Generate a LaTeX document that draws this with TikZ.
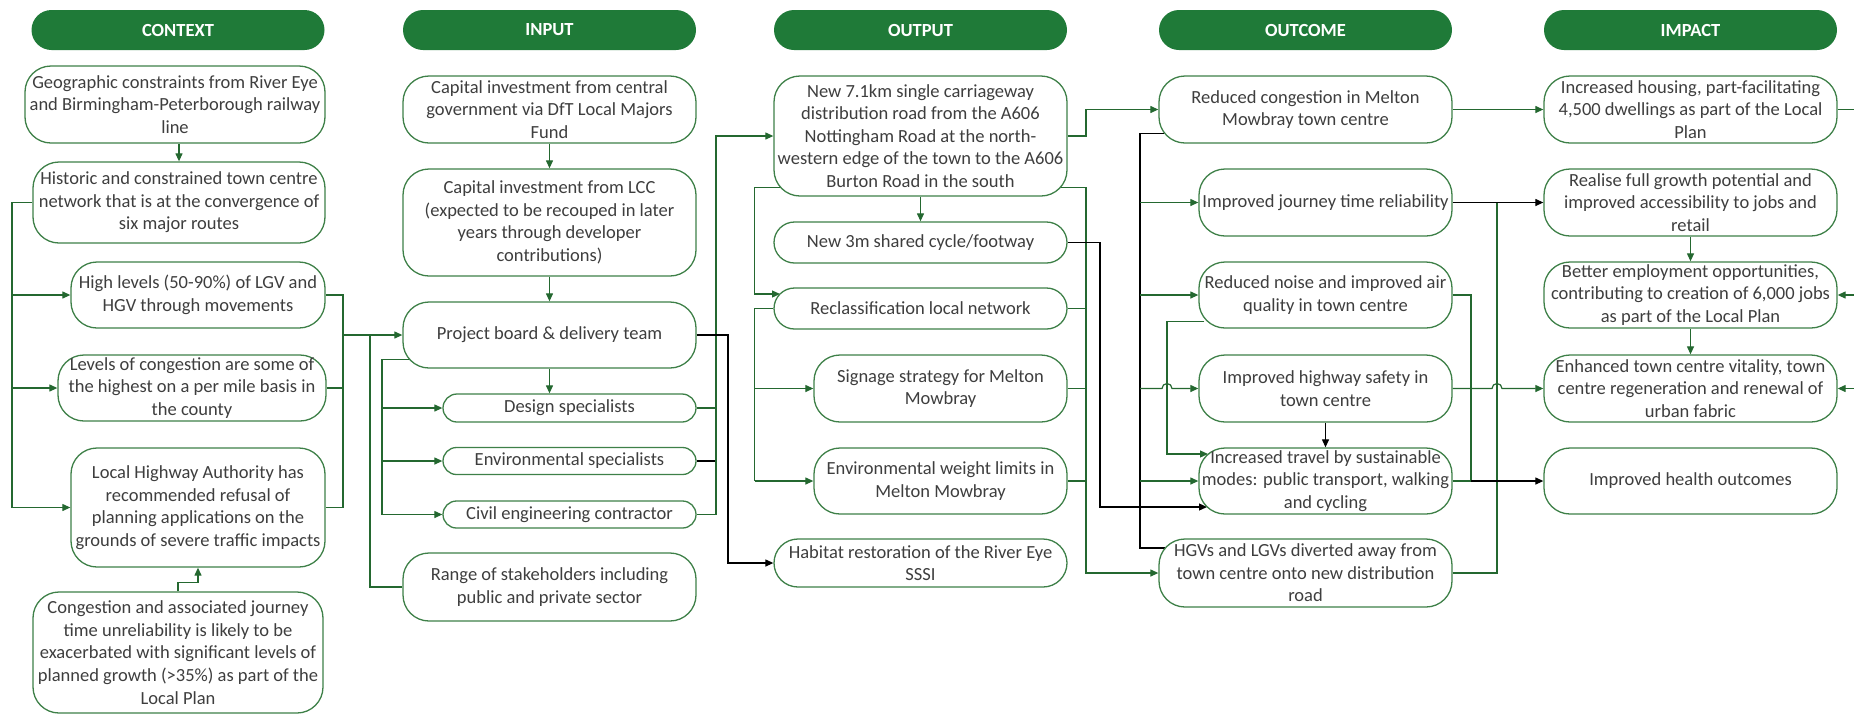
\documentclass[tikz,border=0pt]{standalone}
\usepackage{fontspec}
\setmainfont{Carlito}
\usetikzlibrary{arrows.meta,calc}
\definecolor{hdrg}{RGB}{31,122,56}
\definecolor{boxg}{RGB}{62,128,72}
\definecolor{lng}{RGB}{36,104,48}
\definecolor{txt}{RGB}{62,62,62}
\pgfdeclarelayer{bg}
\pgfsetlayers{bg,main}
\newcommand{\boxfont}{\fontsize{9.25pt}{11.3pt}\selectfont}
\begin{document}
\begin{tikzpicture}[x=0.5pt,y=-0.5pt,
 hdr/.style={fill=hdrg, rounded corners=10pt, minimum width=146.5pt, minimum height=20pt, inner sep=0pt, text=white, font=\boxfont\bfseries},
 bx/.style={draw=boxg, line width=0.65pt, fill=white, align=center, inner sep=0pt, text=txt, font=\boxfont, rounded corners=13pt},
 wh/.style 2 args={minimum width=#1pt, minimum height=#2pt},
 gl/.style={draw=lng, line width=0.6pt},
 bl/.style={draw=black, line width=0.6pt},
 ga/.style={gl, -{Triangle[length=4pt,width=3.5pt]}},
 ba/.style={bl, -{Triangle[length=4pt,width=3.5pt]}},
]
\useasboundingbox (0,0) rectangle (1854,714);

% headers
\node[hdr] (hC) at (178,30) {CONTEXT};
\node[hdr] (hI) at (549.5,30) {INPUT};
\node[hdr] (hO) at (920.5,30) {OUTPUT};
\node[hdr] (hR) at (1305.5,30) {OUTCOME};
\node[hdr] (hP) at (1690.5,30) {IMPACT};

% context
\node[bx,wh={150}{38.5}] (c1) at (175,104.5) {Geographic constraints from River Eye\\and Birmingham-Peterborough railway\\line};
\node[bx,wh={146}{40.5}] (c2) at (179,202.5) {Historic and constrained town centre\\network that is at the convergence of\\six major routes};
\node[bx,wh={127}{33}] (c3) at (198,295) {High levels (50-90\%) of LGV and\\HGV through movements};
\node[bx,wh={134}{33}] (c4) at (192,388) {Levels of congestion are some of\\the highest on a per mile basis in\\the county};
\node[bx,wh={127}{59.5}] (c5) at (198,507.5) {Local Highway Authority has\\recommended refusal of\\planning applications on the\\grounds of severe traffic impacts};
\node[bx,wh={145}{60.5}] (c6) at (178,652.5) {Congestion and associated journey\\time unreliability is likely to be\\exacerbated with significant levels of\\planned growth (>35\%) as part of the\\Local Plan};

% input
\node[bx,wh={146.5}{33.5}] (i1) at (549.5,109.5) {Capital investment from central\\government via DfT Local Majors\\Fund};
\node[bx,wh={146.5}{53.5}] (i2) at (549.5,222.5) {Capital investment from LCC\\(expected to be recouped in later\\years through developer\\contributions)};
\node[bx,wh={146.5}{33}] (i3) at (549.5,335) {Project board \& delivery team};
\node[bx,wh={126.5}{14},rounded corners=7pt] (i4) at (569.5,408) {Design specialists};
\node[bx,wh={126.5}{13.5},rounded corners=6.75pt] (i5) at (569.5,461) {Environmental specialists};
\node[bx,wh={126.5}{13.5},rounded corners=6.75pt] (i6) at (569.5,514.5) {Civil engineering contractor};
\node[bx,wh={146.5}{34}] (i7) at (549.5,587) {Range of stakeholders including\\public and private sector};

% output
\node[bx,wh={146.5}{60}] (o1) at (920.5,136) {New 7.1km single carriageway\\distribution road from the A606\\Nottingham Road at the north-\\western edge of the town to the A606\\Burton Road in the south};
\node[bx,wh={146.5}{20.5},rounded corners=10.25pt] (o2) at (920.5,242.5) {New 3m shared cycle/footway};
\node[bx,wh={146.5}{20.5},rounded corners=10.25pt] (o3) at (920.5,308.5) {Reclassification local network};
\node[bx,wh={126.5}{33.5}] (o4) at (940.5,388.5) {Signage strategy for Melton\\Mowbray};
\node[bx,wh={126.5}{33}] (o5) at (940.5,481) {Environmental weight limits in\\Melton Mowbray};
\node[bx,wh={146.5}{24},rounded corners=12pt] (o6) at (920.5,563) {Habitat restoration of the River Eye\\SSSI};

% outcome
\node[bx,wh={146.5}{33.5}] (r1) at (1305.5,109.5) {Reduced congestion in Melton\\Mowbray town centre};
\node[bx,wh={126.5}{33.5}] (r2) at (1325.5,202.5) {Improved journey time reliability};
\node[bx,wh={126.5}{33}] (r3) at (1325.5,295) {Reduced noise and improved air\\quality in town centre};
\node[bx,wh={126.5}{33.5}] (r4) at (1325.5,388.5) {Improved highway safety in\\town centre};
\node[bx,wh={126.5}{33}] (r5) at (1325.5,481) {Increased travel by sustainable\\modes: public transport, walking\\and cycling};
\node[bx,wh={146.5}{34}] (r6) at (1305.5,573) {HGVs and LGVs diverted away from\\town centre onto new distribution\\road};

% impact
\node[bx,wh={146.5}{33.5}] (p1) at (1690.5,109.5) {Increased housing, part-facilitating\\4,500 dwellings as part of the Local\\Plan};
\node[bx,wh={146.5}{33.5}] (p2) at (1690.5,202.5) {Realise full growth potential and\\improved accessibility to jobs and\\retail};
\node[bx,wh={146.5}{33}] (p3) at (1690.5,295) {Better employment opportunities,\\contributing to creation of 6,000 jobs\\as part of the Local Plan};
\node[bx,wh={146.5}{33.5}] (p4) at (1690.5,388.5) {Enhanced town centre vitality, town\\centre regeneration and renewal of\\urban fabric};
\node[bx,wh={146.5}{33}] (p5) at (1690.5,481) {Improved health outcomes};

% bus coordinates
\coordinate (xC) at (12,0);
\coordinate (xCR) at (343,0);
\coordinate (xS) at (370,0);
\coordinate (xI) at (382,0);
\coordinate (xIR) at (716,0);
\coordinate (xIB) at (728,0);
\coordinate (xOL) at (754.5,0);
\coordinate (xOR) at (1086,0);
\coordinate (xOB) at (1100,0);
\coordinate (xRL) at (1140,0);
\coordinate (xRL2) at (1167,0);
\coordinate (xRR1) at (1471,0);
\coordinate (xRR2) at (1497,0);
\coordinate (edgeR) at (1854,0);
\coordinate (o3in) at (780,294);
\coordinate (r5inA) at (1208,454);
\coordinate (r5inB) at (1207,507);
\coordinate (r6in) at (1165,548);

\begin{pgfonlayer}{bg}
% context
\draw[ga] (c2.north |- c1.south) -- (c2.north);
\draw[ga] (c6.north) -- ++(0,-9) -| (c5.south);
\draw[gl] (c2.west) -| (xC |- c5.west);
\draw[ga] (xC |- c3.west) -- (c3.west);
\draw[ga] (xC |- c4.west) -- (c4.west);
\draw[ga] (xC |- c5.west) -- (c5.west);
\draw[gl] (c3.east) -| (xCR |- c5.east) -- (c5.east);
\draw[gl] (c4.east) -- (xCR |- c4.east);
\draw[ga] (xCR |- i3.west) -- (i3.west);
\draw[gl] (i7.west) -| (xS |- i3.west);
% input
\draw[ga] (i1.south) -- (i2.north);
\draw[ga] (i2.south) -- (i3.north);
\draw[ga] (i3.south) -- (i3.south |- i4.north);
\draw[gl] ($(i3.south west)+(8,-9)$) -| (xI |- i6.west);
\draw[ga] (xI |- i4.west) -- (i4.west);
\draw[ga] (xI |- i5.west) -- (i5.west);
\draw[ga] (xI |- i6.west) -- (i6.west);
\draw[gl] (i4.east) -- (xIR |- i4.east);
\draw[bl] (i5.east) -- (xIR |- i5.east);
\draw[ga] (i6.east) -| (xIR |- o1.west) -- (o1.west);
\draw[ba] (i3.east) -| (xIB |- o6.west) -- (o6.west);
% output
\draw[ga] (o1.south) -- (o2.north);
\draw[ga] ($(o1.south west)+(8,-9)$) -| (xOL |- o3in) -- (o3in);
\draw[gl] (o3.west) -| (xOL |- o5.west);
\draw[ga] (xOL |- o4.west) -- (o4.west);
\draw[ga] (xOL |- o5.west) -- (o5.west);
\draw[ga] (o1.east) -| (xOR |- r1.west) -- (r1.west);
\draw[ga] ($(o1.south east)+(-8,-9)$) -| (xOR |- r6.west) -- (r6.west);
\draw[gl] (o3.east) -- (xOR |- o3.east);
\draw[gl] (o4.east) -- (xOR |- o4.east);
\draw[gl] (o5.east) -- (xOR |- o5.east);
\draw[ba] (o2.east) -| (xOB |- r5inB) -- (r5inB);
% outcome
\draw[bl] ($(r1.south west)+(6,-10)$) -| (xRL |- r6in) -- (r6in);
\draw[ga] (xRL |- r2.west) -- (r2.west);
\draw[ga] (xRL |- r3.west) -- (r3.west);
\draw[ga] (xRL |- r4.west) -- ($(xRL2 |- r4.west)+(-5,0)$) arc[start angle=180,end angle=0,radius=2.5pt] -- (r4.west);
\draw[ga] (xRL |- r5.west) -- (r5.west);
\draw[ga] ($(r3.south west)+(6,-7)$) -| (xRL2 |- r5inA) -- (r5inA);
\draw[ba] (r4.south) -- (r5.north);
\draw[ba] (r2.east) -- (p2.west);
\draw[gl] (r6.east) -| (xRR2 |- r2.east);
\draw[gl] (r3.east) -| (xRR1 |- r5.east);
\draw[gl] (r5.east) -- (xRR1 |- r5.east);
\draw[ba] (xRR1 |- r5.east) -- (p5.west);
\draw[ga] (r4.east) -- ($(xRR2 |- r4.east)+(-5,0)$) arc[start angle=180,end angle=0,radius=2.5pt] -- (p4.west);
\draw[ga] (r1.east) -- (p1.west);
% impact
\draw[ga] (p2.south) -- (p3.north);
\draw[ga] (p3.south) -- (p4.north);
\draw[gl] (p1.east) -- (edgeR |- p1.east);
\draw[ga] (edgeR |- p3.east) -- (p3.east);
\draw[ga] (edgeR |- p4.east) -- (p4.east);
\end{pgfonlayer}
\end{tikzpicture}
\end{document}
